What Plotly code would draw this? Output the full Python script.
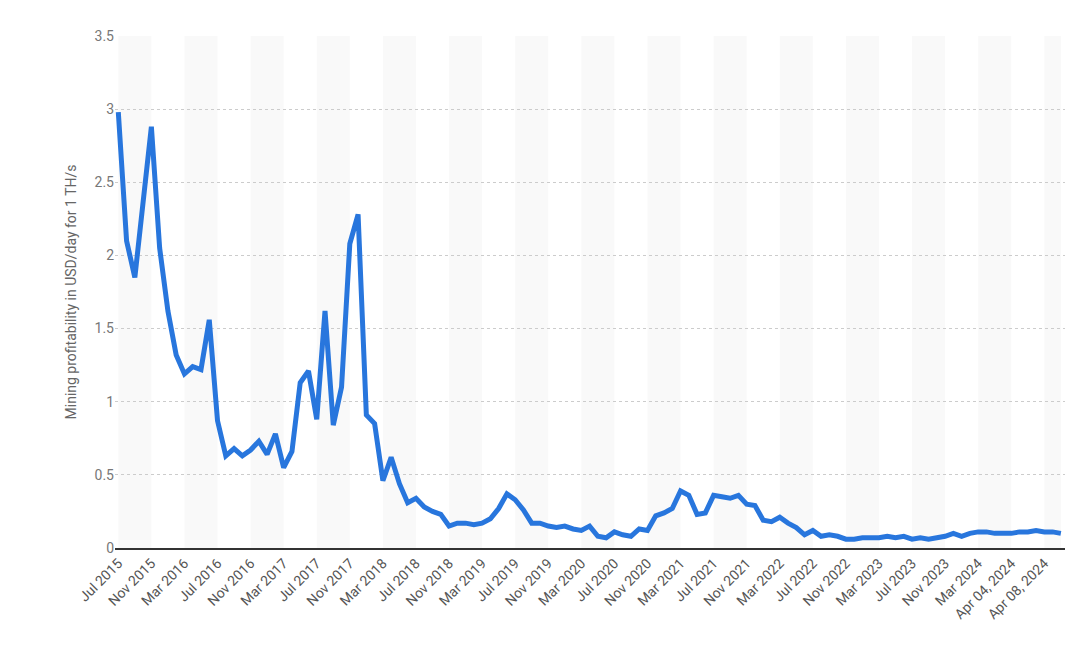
import plotly.graph_objects as go

months = ["Jan","Feb","Mar","Apr","May","Jun","Jul","Aug","Sep","Oct","Nov","Dec"]
categories = []
for y in range(2015, 2025):
    for i, m in enumerate(months):
        if (y == 2015 and i < 6) or (y == 2024 and i > 2):
            continue
        categories.append(f"{m} {y}")
categories += [f"Apr {d:02d}, 2024" for d in range(1, 11)]

values = [2.98, 2.1, 1.85, 2.35, 2.88, 2.05, 1.62, 1.32, 1.19, 1.24, 1.22, 1.56, 0.87, 0.63,
          0.68, 0.63, 0.67, 0.73, 0.64, 0.78, 0.55, 0.66, 1.13, 1.21, 0.88, 1.62, 0.84, 1.1,
          2.08, 2.28, 0.91, 0.85, 0.46, 0.62, 0.44, 0.31, 0.34, 0.28, 0.25, 0.23, 0.15, 0.17,
          0.17, 0.16, 0.17, 0.2, 0.27, 0.37, 0.33, 0.26, 0.17, 0.17, 0.15, 0.14, 0.15, 0.13,
          0.12, 0.15, 0.08, 0.07, 0.11, 0.09, 0.08, 0.13, 0.12, 0.22, 0.24, 0.27, 0.39, 0.36,
          0.23, 0.24, 0.36, 0.35, 0.34, 0.36, 0.3, 0.29, 0.19, 0.18, 0.21, 0.17, 0.14, 0.09,
          0.12, 0.08, 0.09, 0.08, 0.06, 0.06, 0.07, 0.07, 0.07, 0.08, 0.07, 0.08, 0.06, 0.07,
          0.06, 0.07, 0.08, 0.1, 0.08, 0.1, 0.11, 0.11, 0.1, 0.1, 0.1, 0.11, 0.11, 0.12, 0.11,
          0.11, 0.1]
values = values[:len(categories)]
tick_labels = categories[::4]

fig = go.Figure(go.Scatter(x=categories, y=values, mode="lines",
                           line=dict(color="#2876dd", width=5), hoverinfo="x+y"))
shapes = []
for k in range(0, len(categories), 8):
    shapes.append(dict(type="rect", xref="x", yref="paper", x0=k, x1=min(k + 4, len(categories) - 1),
                       y0=0, y1=1, fillcolor="#f9f9f9", line=dict(width=0), layer="below"))
fig.update_layout(
    width=1087, height=661, plot_bgcolor="white", paper_bgcolor="white",
    margin=dict(l=107, r=30, t=28, b=121), showlegend=False, shapes=shapes,
    font=dict(family="Roboto, Open Sans, sans-serif", color="#666", size=14),
    xaxis=dict(type="category", tickvals=tick_labels, ticktext=tick_labels, tickangle=-45,
               range=[-0.4, len(categories) - 0.5], showgrid=False, showline=True,
               linecolor="#333", linewidth=1.5, ticks="", tickfont=dict(size=14, color="#555")),
    yaxis=dict(range=[0, 3.5], dtick=0.5, showgrid=True, gridcolor="#cccccc", griddash="dot",
               zeroline=False, title=dict(text="Mining profitability in USD/day for 1 TH/s",
               font=dict(size=14, color="#666"), standoff=14), tickfont=dict(size=14, color="#777")),
)
fig.write_html("out.html")
